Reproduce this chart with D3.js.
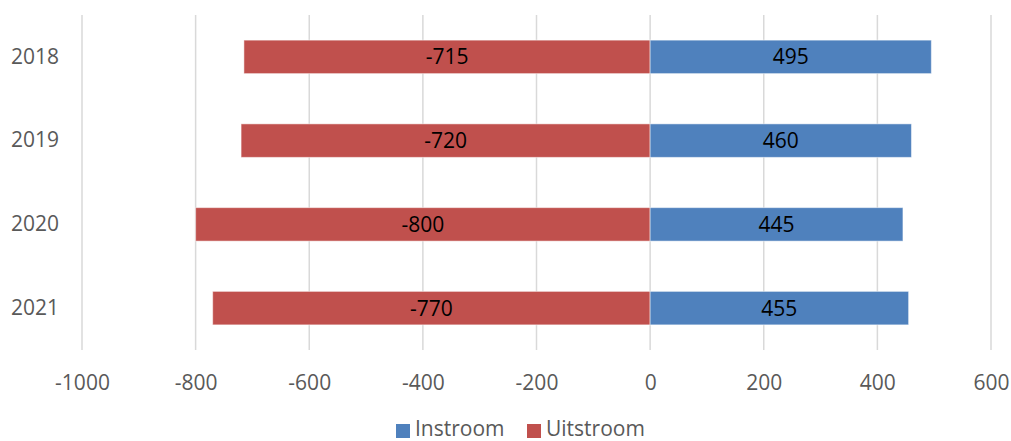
<!DOCTYPE html>
<html>
<head>
<meta charset="utf-8">
<script src="https://cdn.jsdelivr.net/npm/d3@7"></script>
<style>
  html, body { margin: 0; padding: 0; background: #fff; }
  svg { display: block; }
  text { font-family: "Open Sans", sans-serif; }
</style>
</head>
<body>
<svg id="chart" width="1011" height="441"></svg>
<script>
const years = ["2018", "2019", "2020", "2021"];
const instroom = [495, 460, 445, 455];
const uitstroom = [-715, -720, -800, -770];
const xTicks = [-1000, -800, -600, -400, -200, 0, 200, 400, 600];
const seriesNames = ["Instroom", "Uitstroom"];
const seriesColors = ["#4F81BD", "#C0504D"];

const svg = d3.select("#chart");
const FS = 21;

const x = d3.scaleLinear().domain([-1000, 600]).range([82, 991]);
const y = d3.scaleBand().domain(years).range([15, 350]).paddingInner(0.6).paddingOuter(0.3);

// gridlines
svg.append("g").selectAll("line").data(xTicks).join("line")
  .attr("x1", d => x(d)).attr("x2", d => x(d))
  .attr("y1", 15).attr("y2", 350)
  .attr("stroke", "#D9D9D9").attr("stroke-width", 1.5);

// x axis labels
const xAxis = d3.axisBottom(x).tickValues(xTicks).tickSize(0).tickPadding(0).tickFormat(d3.format("d"));
const gx = svg.append("g").attr("transform", "translate(0,375)").call(xAxis);
gx.select(".domain").remove();
gx.selectAll("text").attr("font-family", "Open Sans, sans-serif").attr("font-size", FS)
  .attr("fill", "#595959").attr("dy", "0.71em")
  .text(d => d < 0 ? "-" + Math.abs(d) : d);

// y axis labels
const yAxis = d3.axisLeft(y).tickSize(0).tickPadding(0);
const gy = svg.append("g").attr("transform", "translate(59,0)").call(yAxis);
gy.select(".domain").remove();
gy.selectAll("text").attr("font-family", "Open Sans, sans-serif").attr("font-size", FS)
  .attr("fill", "#595959");

// bars
const rows = years.map((yr, i) => ({ yr, inn: instroom[i], out: uitstroom[i] }));

svg.append("g").selectAll("rect").data(rows).join("rect")
  .attr("x", d => x(d.out)).attr("width", d => x(0) - x(d.out))
  .attr("y", d => y(d.yr)).attr("height", y.bandwidth())
  .attr("fill", seriesColors[1]).attr("stroke", "#fff").attr("stroke-opacity", 0.5).attr("stroke-width", 1);

svg.append("g").selectAll("rect").data(rows).join("rect")
  .attr("x", x(0)).attr("width", d => x(d.inn) - x(0))
  .attr("y", d => y(d.yr)).attr("height", y.bandwidth())
  .attr("fill", seriesColors[0]).attr("stroke", "#fff").attr("stroke-opacity", 0.5).attr("stroke-width", 1);

// data labels
svg.append("g").selectAll("text").data(rows).join("text")
  .attr("x", d => (x(d.out) + x(0)) / 2).attr("y", d => y(d.yr) + y.bandwidth() / 2)
  .attr("dy", "0.36em").attr("text-anchor", "middle")
  .attr("font-size", FS).attr("fill", "#000")
  .text(d => "-" + Math.abs(d.out));

svg.append("g").selectAll("text").data(rows).join("text")
  .attr("x", d => (x(d.inn) + x(0)) / 2).attr("y", d => y(d.yr) + y.bandwidth() / 2)
  .attr("dy", "0.36em").attr("text-anchor", "middle")
  .attr("font-size", FS).attr("fill", "#000")
  .text(d => d.inn);

// legend
const leg = svg.append("g");
const legX = [396, 527];
seriesNames.forEach((n, i) => {
  leg.append("rect").attr("x", legX[i]).attr("y", 424).attr("width", 14).attr("height", 14)
    .attr("fill", seriesColors[i]);
  leg.append("text").attr("x", legX[i] + 19).attr("y", 436)
    .attr("font-size", FS).attr("fill", "#595959").text(n);
});
</script>
</body>
</html>
